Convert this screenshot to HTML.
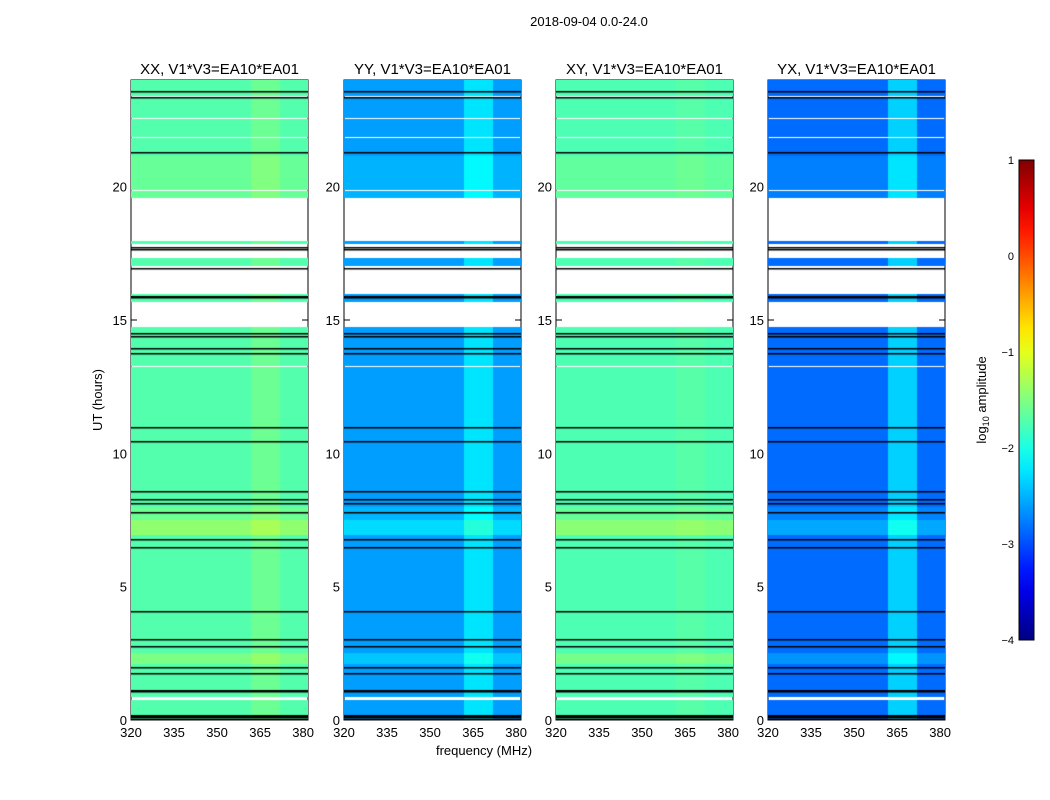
<!DOCTYPE html>
<html><head><meta charset="utf-8"><style>
body{margin:0;background:#fff;font-family:"Liberation Sans","DejaVu Sans",sans-serif;}
#root{position:relative;width:1050px;height:800px;overflow:hidden;background:#fff;}
svg text{font-family:"Liberation Sans","DejaVu Sans",sans-serif;}
</style></head><body>
<div id="root">
<svg id="svg" width="1050" height="800" xmlns="http://www.w3.org/2000/svg">
<text x="589" y="26" font-size="13" text-anchor="middle">2018-09-04 0.0-24.0</text>
<text x="484" y="755" font-size="13" text-anchor="middle">frequency (MHz)</text>
<text transform="translate(102,400) rotate(-90)" font-size="13" text-anchor="middle">UT (hours)</text>
<text transform="translate(986,400) rotate(-90)" font-size="13" text-anchor="middle">log<tspan font-size="9" dy="3">10</tspan><tspan dy="-3"> amplitude</tspan></text>
</svg>
</div>
<script>
// ---- data ----
const panelNames = ['XX, V1*V3=EA10*EA01','YY, V1*V3=EA10*EA01','XY, V1*V3=EA10*EA01','YX, V1*V3=EA10*EA01'];
const panelLevel = [-1.72, -2.6, -1.75, -2.85];
const bandBoost = [0.12, 0.35, 0.05, 0.5];
const bandRange = [362, 372];
const freqTicks = [320, 335, 350, 365, 380];
const timeTicks = [0, 5, 10, 15, 20];
const cbarTicks = [1, 0, -1, -2, -3, -4];
const whiteGaps = [[23.3,23.45],[22.83,22.88],[22.48,22.62],[21.88,21.92],[21.78,21.9],[21.58,21.63],[20.38,20.43],[20.18,20.22],[20.05,20.1],[19.82,19.88],[17.95,19.6],[17.7,17.88],[17.3,17.68],[16.9,17.05],[15.95,16.88],[14.72,15.72],[14.58,14.62],[13.22,13.3],[11.88,11.93],[10.13,10.18],[9.63,9.68],[8.98,9.03],[8.55,8.6],[7.38,7.43],[6.93,7.02],[6.75,6.85],[6.03,6.08],[5.73,5.78],[4.83,4.88],[3.68,3.73],[3.53,3.58],[3.33,3.38],[2.08,2.13],[1.53,1.58],[0.75,0.9],[0.1,0.2]];
const flagLines = [23.6,23.35,21.3,17.72,17.66,16.95,15.9,15.85,14.5,14.4,13.95,13.75,11.0,10.45,8.6,8.3,8.15,7.8,6.8,6.5,4.1,3.05,2.77,1.98,1.75,1.12,1.1,0.2,0.15,0.1,0.05];
const rowBoost = [[6.95,7.5,0.3],[2.1,2.5,0.2],[7.5,8.0,0.12],[19.6,21.2,0.1]];
// ---- layout ----
const panelX = [131, 344, 556, 768], PW = 177, PT = 80, PH = 640;
const FMIN = 320, FMAX = 381.7, TMAX = 24;
const CMIN = -4, CMAX = 1;
const svg = document.getElementById('svg');
const NS = 'http://www.w3.org/2000/svg';
function xs(p, f){ return panelX[p] + (f - FMIN) / (FMAX - FMIN) * PW; }
function ys(t){ return PT + PH - t / TMAX * PH; }
function jet(v){
  let t = Math.max(0, Math.min(1, (v - CMIN) / (CMAX - CMIN)));
  const c = x => Math.round(255 * Math.max(0, Math.min(1, 1.5 - Math.abs(4 * t - x))));
  return 'rgb(' + c(3) + ',' + c(2) + ',' + c(1) + ')';
}
function mk(tag, attrs){ const e = document.createElementNS(NS, tag); for (const k in attrs) e.setAttribute(k, attrs[k]); svg.appendChild(e); return e; }
function rowVal(t){ let b = 0; for (const r of rowBoost) if (t >= r[0] && t < r[1]) b += r[2]; return b; }
function isWhite(t){ return whiteGaps.some(g => t >= g[0] && t < g[1]); }
for (let p = 0; p < 4; p++) {
  const cv = document.createElement('canvas');
  cv.width = PW; cv.height = PH;
  cv.style.cssText = 'position:absolute;left:' + panelX[p] + 'px;top:' + PT + 'px;';
  
  
  document.getElementById('root').insertBefore(cv, svg);
  const ctx = cv.getContext('2d');
  const dt = 0.05, df = 1;
  for (let t = 0; t < TMAX; t += dt) {
    if (isWhite(t + dt / 2)) continue;
    for (let f = FMIN; f < FMAX; f += df) {
      let v = panelLevel[p] + rowVal(t);
      if (f >= bandRange[0] && f < bandRange[1]) v += bandBoost[p];
      ctx.fillStyle = jet(v);
      const x0 = xs(p, f) - panelX[p], x1 = xs(p, f + df) - panelX[p];
      const y0 = ys(t + dt) - PT, y1 = ys(t) - PT;
      ctx.fillRect(Math.floor(x0), Math.floor(y0), Math.ceil(x1 - x0) + 1, Math.ceil(y1 - y0) + 1);
    }
  }
  ctx.fillStyle = '#000';
  for (const h of flagLines) ctx.fillRect(0, Math.round(ys(h) - PT), PW, 1.5);
  const fr = mk('rect', {x: panelX[p], y: PT, width: PW, height: PH, fill: 'none', stroke: '#000', 'stroke-width': 1});
  
  
  const ti = mk('text', {x: panelX[p] + PW / 2, y: 74, 'font-size': 15, 'text-anchor': 'middle'});
  ti.textContent = panelNames[p];
  
  
  for (const f of freqTicks) {
    const x = xs(p, f);
    mk('line', {x1: x, x2: x, y1: PT + PH, y2: PT + PH - 5, stroke: '#000'});
    mk('line', {x1: x, x2: x, y1: PT, y2: PT + 5, stroke: '#000'});
    const tx = mk('text', {x: x, y: 737, 'font-size': 13, 'text-anchor': 'middle'});
    tx.textContent = f;
    
    
  }
  for (const h of timeTicks) {
    const y = ys(h);
    mk('line', {x1: panelX[p], x2: panelX[p] + 6, y1: y, y2: y, stroke: '#000'});
    mk('line', {x1: panelX[p] + PW, x2: panelX[p] + PW - 6, y1: y, y2: y, stroke: '#000'});
    const ty = mk('text', {x: panelX[p] - 4, y: y + 5, 'font-size': 13, 'text-anchor': 'end'});
    ty.textContent = h;
    
    
  }
}
// colorbar
const CBX = 1019, CBW = 15, CBT = 160, CBH = 480;
const defs = mk('defs', {});
const lg = document.createElementNS(NS, 'linearGradient');
lg.setAttribute('id', 'jetg'); lg.setAttribute('x1', 0); lg.setAttribute('y1', 1); lg.setAttribute('x2', 0); lg.setAttribute('y2', 0);
for (let i = 0; i <= 20; i++) {
  const s = document.createElementNS(NS, 'stop');
  s.setAttribute('offset', i / 20);
  s.setAttribute('stop-color', jet(CMIN + (CMAX - CMIN) * i / 20));
  lg.appendChild(s);
}
defs.appendChild(lg);
const cb = mk('rect', {x: CBX, y: CBT, width: CBW, height: CBH, fill: 'url(#jetg)', stroke: '#000'});


for (const v of cbarTicks) {
  const y = CBT + (CMAX - v) / (CMAX - CMIN) * CBH;
  const t = mk('text', {x: CBX - 5, y: y + 4, 'font-size': 11, 'text-anchor': 'end'});
  t.textContent = v < 0 ? '\u2212' + (-v) : v;
  
  
}
</script>
</body></html>
